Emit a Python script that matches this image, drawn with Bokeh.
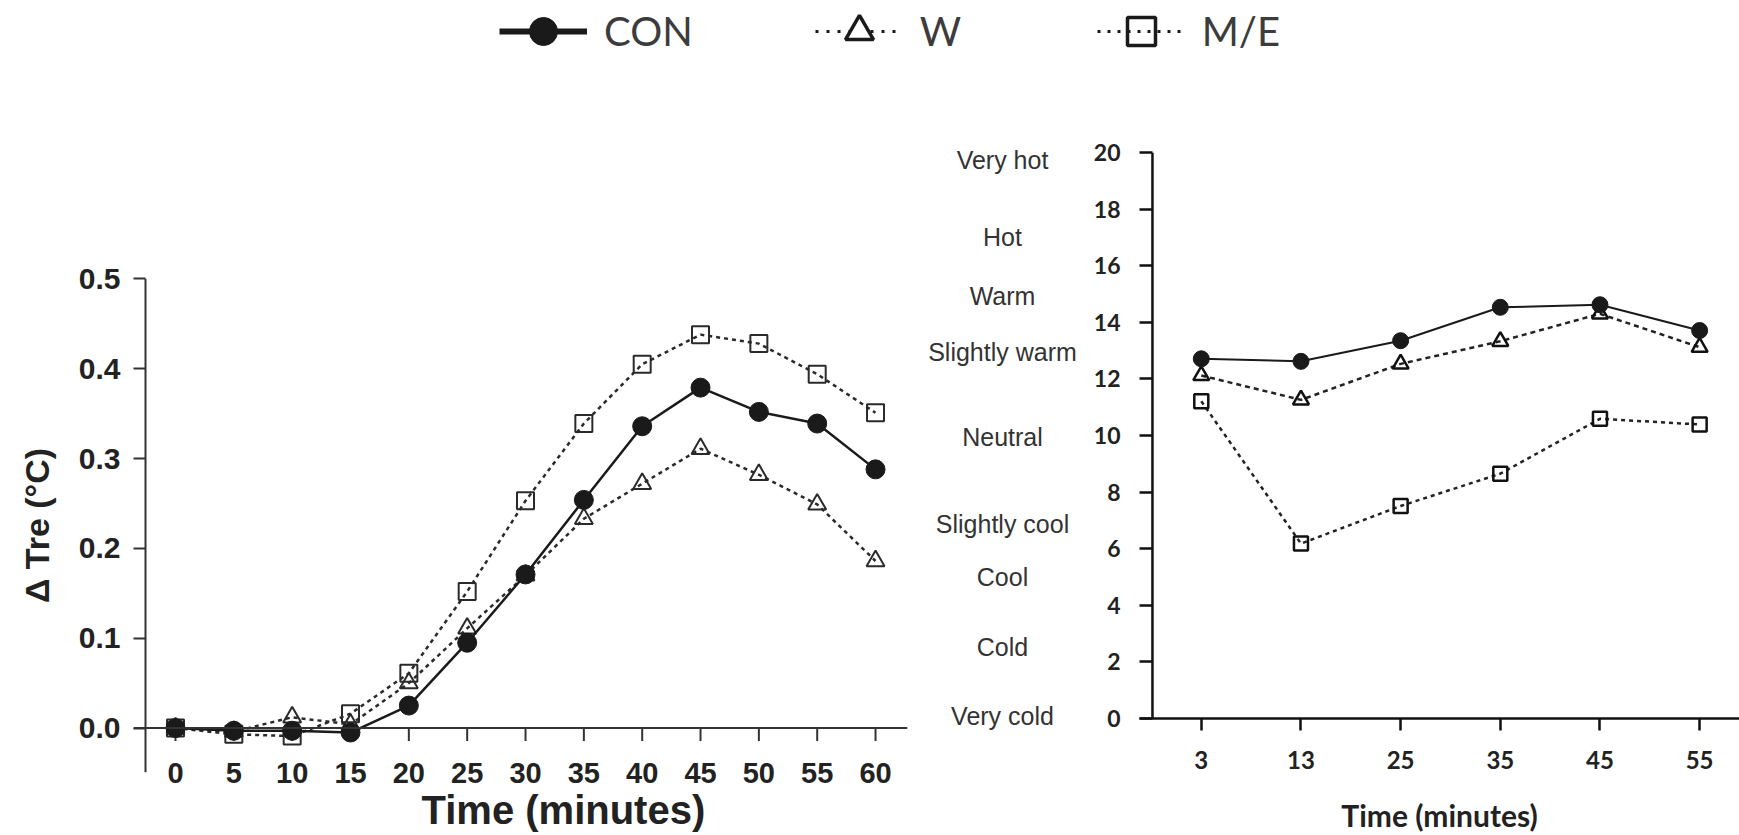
import math
from bokeh.plotting import figure
from bokeh.models import (ColumnDataSource, FixedTicker, LinearAxis, Legend, LegendItem,
                          Range1d, PrintfTickFormatter, Span, Title, Plot)
from bokeh.layouts import column, row
from bokeh.embed import file_html
from bokeh.resources import INLINE
from bokeh.core.properties import value

# ---------------- data ----------------
# Left panel: change in rectal temperature (Δ Tre, °C)
tre_time = [0, 5, 10, 15, 20, 25, 30, 35, 40, 45, 50, 55, 60]
tre_con = [0.0, -0.003, -0.003, -0.005, 0.025, 0.095, 0.171, 0.254, 0.336, 0.379, 0.352, 0.339, 0.288]
tre_w = [0.0, -0.004, 0.012, 0.004, 0.050, 0.111, 0.170, 0.233, 0.272, 0.311, 0.282, 0.249, 0.186]
tre_me = [0.0, -0.007, -0.009, 0.016, 0.061, 0.152, 0.253, 0.339, 0.405, 0.438, 0.428, 0.394, 0.351]
tre_yticks = [0.0, 0.1, 0.2, 0.3, 0.4, 0.5]

# Right panel: thermal sensation
sens_time = ["3", "13", "25", "35", "45", "55"]
sens_con = [12.71, 12.62, 13.35, 14.53, 14.62, 13.71]
sens_w = [12.12, 11.26, 12.53, 13.33, 14.30, 13.12]
sens_me = [11.21, 6.18, 7.51, 8.65, 10.59, 10.39]
sens_yticks = [0, 2, 4, 6, 8, 10, 12, 14, 16, 18, 20]
sens_labels = ["Very hot", "Hot", "Warm", "Slightly warm", "Neutral",
               "Slightly cool", "Cool", "Cold", "Very cold"]
sens_label_pos = [19.73, 17.0, 14.94, 12.94, 9.94, 6.88, 4.99, 2.54, 0.08]

series_names = ["CON", "W", "M/E"]

INK = "#1a1a1a"
AX = "#333333"
ARIAL = "Liberation Sans"
HAS_FRAME_ALIGN = "frame_align" in Plot.properties()


def no_align(fig):
    if HAS_FRAME_ALIGN:
        fig.frame_align = False
    return fig


# ---------------- legend strip ----------------
leg = figure(width=1739, height=80, output_backend="svg", toolbar_location=None,
             x_range=Range1d(0, 1), y_range=Range1d(0, 1),
             x_axis_location=None, y_axis_location=None,
             min_border=0, outline_line_color=None)
no_align(leg)
leg.grid.visible = False
proxy = ColumnDataSource(data=dict(x=[float("nan")], y=[float("nan")]))
l1 = leg.line("x", "y", source=proxy, line_color=INK, line_width=6)
m1 = leg.scatter("x", "y", source=proxy, marker="circle", fill_color=INK, line_color=INK)
l2 = leg.line("x", "y", source=proxy, line_color=INK, line_width=3, line_dash="3 8")
m2 = leg.scatter("x", "y", source=proxy, marker="triangle", fill_color="white", line_color=INK, line_width=3.5)
l3 = leg.line("x", "y", source=proxy, line_color=INK, line_width=3, line_dash="3 7")
m3 = leg.scatter("x", "y", source=proxy, marker="square", fill_color=None, line_color=INK, line_width=3.5)
legend = Legend(items=[LegendItem(label=series_names[0], renderers=[l1, m1]),
                       LegendItem(label=series_names[1], renderers=[l2, m2]),
                       LegendItem(label=series_names[2], renderers=[l3, m3])],
                orientation="horizontal", location=(499, 14),
                glyph_width=88, glyph_height=70, label_standoff=17, spacing=122,
                label_width=55, padding=0, margin=0, border_line_color=None,
                background_fill_alpha=0,
                label_text_font="Lato", label_text_font_size="40px", label_text_color="#3c3c3c")
leg.add_layout(legend, "center")

# ---------------- left chart ----------------
left = figure(width=912, height=755, output_backend="svg", toolbar_location=None,
              x_range=Range1d(-3.6, 62.74), y_range=Range1d(-0.0495, 0.5005),
              x_axis_location=None, y_axis_location=None,
              min_border_left=133, min_border_right=5, min_border_top=198, min_border_bottom=63,
              outline_line_color=None)
no_align(left)
left.grid.visible = False

# axis lines crossing at the origin (x axis at ΔTre = 0, y axis just left of t = 0)
left.add_layout(Span(location=0, dimension="width", line_color=AX, line_width=2))
left.add_layout(Span(location=-2.571, dimension="height", line_color=AX, line_width=2))
# x tick marks hanging below the zero line, one per tick value
left.ray(x=tre_time, y=[0] * len(tre_time), length=13, length_units="screen",
         angle=-math.pi / 2, line_color=AX, line_width=2)

src_l = ColumnDataSource(data=dict(t=tre_time, con=tre_con, w=tre_w, me=tre_me))
left.line("t", "me", source=src_l, line_color="#2a2a2a", line_width=2.5, line_dash="4 4")
left.scatter("t", "me", source=src_l, marker="square", size=17, fill_color=None,
             line_color="#2a2a2a", line_width=2)
left.line("t", "w", source=src_l, line_color="#2a2a2a", line_width=2.5, line_dash="4 4")
left.scatter("t", "w", source=src_l, marker="triangle", size=18, fill_color=None,
             line_color="#2a2a2a", line_width=2)
left.line("t", "con", source=src_l, line_color=INK, line_width=2.5)
left.scatter("t", "con", source=src_l, marker="circle", size=19, fill_color=INK, line_color=INK)

xax_l = LinearAxis(ticker=FixedTicker(ticks=tre_time),
                   axis_line_color=None, major_tick_line_color=None,
                   major_tick_in=0, major_tick_out=0, minor_tick_out=0, minor_tick_in=0,
                   major_label_standoff=-10, major_label_text_font=ARIAL,
                   major_label_text_font_style="bold", major_label_text_font_size="29px",
                   major_label_text_color="#222222")
left.add_layout(xax_l, "below")
left.add_layout(Title(text="Time (minutes)", align="left", offset=288, standoff=0,
                      text_font=ARIAL, text_font_style="bold", text_font_size="40px",
                      text_color="#222222"), "below")
yax_l = LinearAxis(ticker=FixedTicker(ticks=tre_yticks),
                   formatter=PrintfTickFormatter(format="%.1f"),
                   axis_line_color=None,
                   major_tick_line_color=AX, major_tick_line_width=2,
                   major_tick_in=12, major_tick_out=0, minor_tick_out=0, minor_tick_in=0,
                   major_label_standoff=13, major_label_text_font=ARIAL,
                   major_label_text_font_style="bold", major_label_text_font_size="30px",
                   major_label_text_color="#222222",
                   axis_label="Δ Tre (°C)", axis_label_standoff=20,
                   axis_label_text_font=ARIAL, axis_label_text_font_style="bold",
                   axis_label_text_font_size="34px", axis_label_text_color="#222222")
left.add_layout(yax_l, "left")

# ---------------- geometry of the sensation chart ----------------
R_TOP, R_BOTTOM_BORDER, R_H = 72, 117, 755
R_FRAME_H = R_H - R_TOP - R_BOTTOM_BORDER
SENS_MIN, SENS_MAX = 0, 20
px_per_unit = R_FRAME_H / (SENS_MAX - SENS_MIN)

# ---------------- sensation scale labels (same vertical scale as the right chart) ----------------
M_TOP, M_BOTTOM_BORDER = 40, 80
mid_range = Range1d(SENS_MIN - (R_BOTTOM_BORDER - M_BOTTOM_BORDER) / px_per_unit,
                    SENS_MAX + (R_TOP - M_TOP) / px_per_unit)
mid = figure(width=178, height=R_H, output_backend="svg", toolbar_location=None,
             x_range=Range1d(0, 178), y_range=mid_range,
             x_axis_location=None, y_axis_location=None,
             min_border_left=0, min_border_right=0, min_border_top=M_TOP,
             min_border_bottom=M_BOTTOM_BORDER, outline_line_color=None)
no_align(mid)
mid.grid.visible = False
lab_src = ColumnDataSource(data=dict(y=sens_label_pos, text=sens_labels))
mid.text(x=90, y="y", text="text", source=lab_src, text_align="center",
         text_baseline="middle", text_font=value(ARIAL), text_font_size="25px",
         text_color="#333333")

# ---------------- right chart ----------------
right = figure(width=649, height=R_H, output_backend="svg", toolbar_location=None,
               x_range=Range1d(-0.62, 5.40), y_range=Range1d(SENS_MIN, SENS_MAX),
               x_axis_location=None, y_axis_location=None,
               min_border_left=47, min_border_right=0, min_border_top=R_TOP,
               min_border_bottom=R_BOTTOM_BORDER, outline_line_color=None)
no_align(right)
right.grid.visible = False

# y axis line sits just left of the first time point; the x axis line runs under it
right.add_layout(Span(location=-0.49, dimension="height", line_color="#111111", line_width=2.5))

idx = list(range(len(sens_time)))
src_r = ColumnDataSource(data=dict(i=idx, con=sens_con, w=sens_w, me=sens_me))
right.line("i", "me", source=src_r, line_color="#222222", line_width=2.5, line_dash="4 4")
right.scatter("i", "me", source=src_r, marker="square", size=14, fill_color=None,
              line_color="#111111", line_width=2.5)
right.line("i", "w", source=src_r, line_color="#222222", line_width=2.5, line_dash="5 4")
right.scatter("i", "w", source=src_r, marker="triangle", size=16, fill_color=None,
              line_color="#111111", line_width=2.5)
right.line("i", "con", source=src_r, line_color=INK, line_width=2)
right.scatter("i", "con", source=src_r, marker="circle", size=16, fill_color=INK, line_color=INK)

xax_r = LinearAxis(ticker=FixedTicker(ticks=idx),
                   major_label_overrides={i: t for i, t in zip(idx, sens_time)},
                   axis_line_color="#111111", axis_line_width=2.5,
                   major_tick_line_color="#111111", major_tick_line_width=2.5,
                   major_tick_in=0, major_tick_out=12, minor_tick_out=0, minor_tick_in=0,
                   major_label_standoff=20, major_label_text_font="Lato",
                   major_label_text_font_style="bold", major_label_text_font_size="24px",
                   major_label_text_color="#222222",
                   axis_label="Time (minutes)", axis_label_standoff=25,
                   axis_label_text_font="Lato", axis_label_text_font_style="bold",
                   axis_label_text_font_size="30px", axis_label_text_color="#222222")
right.add_layout(xax_r, "below")
yax_r = LinearAxis(ticker=FixedTicker(ticks=sens_yticks),
                   axis_line_color=None,
                   major_tick_line_color="#111111", major_tick_line_width=2.5,
                   major_tick_in=13, major_tick_out=0, minor_tick_out=0, minor_tick_in=0,
                   major_label_standoff=19, major_label_text_font="Lato",
                   major_label_text_font_style="bold", major_label_text_font_size="23px",
                   major_label_text_color="#222222")
right.add_layout(yax_r, "left")

layout = column(leg, row(left, mid, right))
open("out.html", "w").write(file_html(layout, INLINE))
